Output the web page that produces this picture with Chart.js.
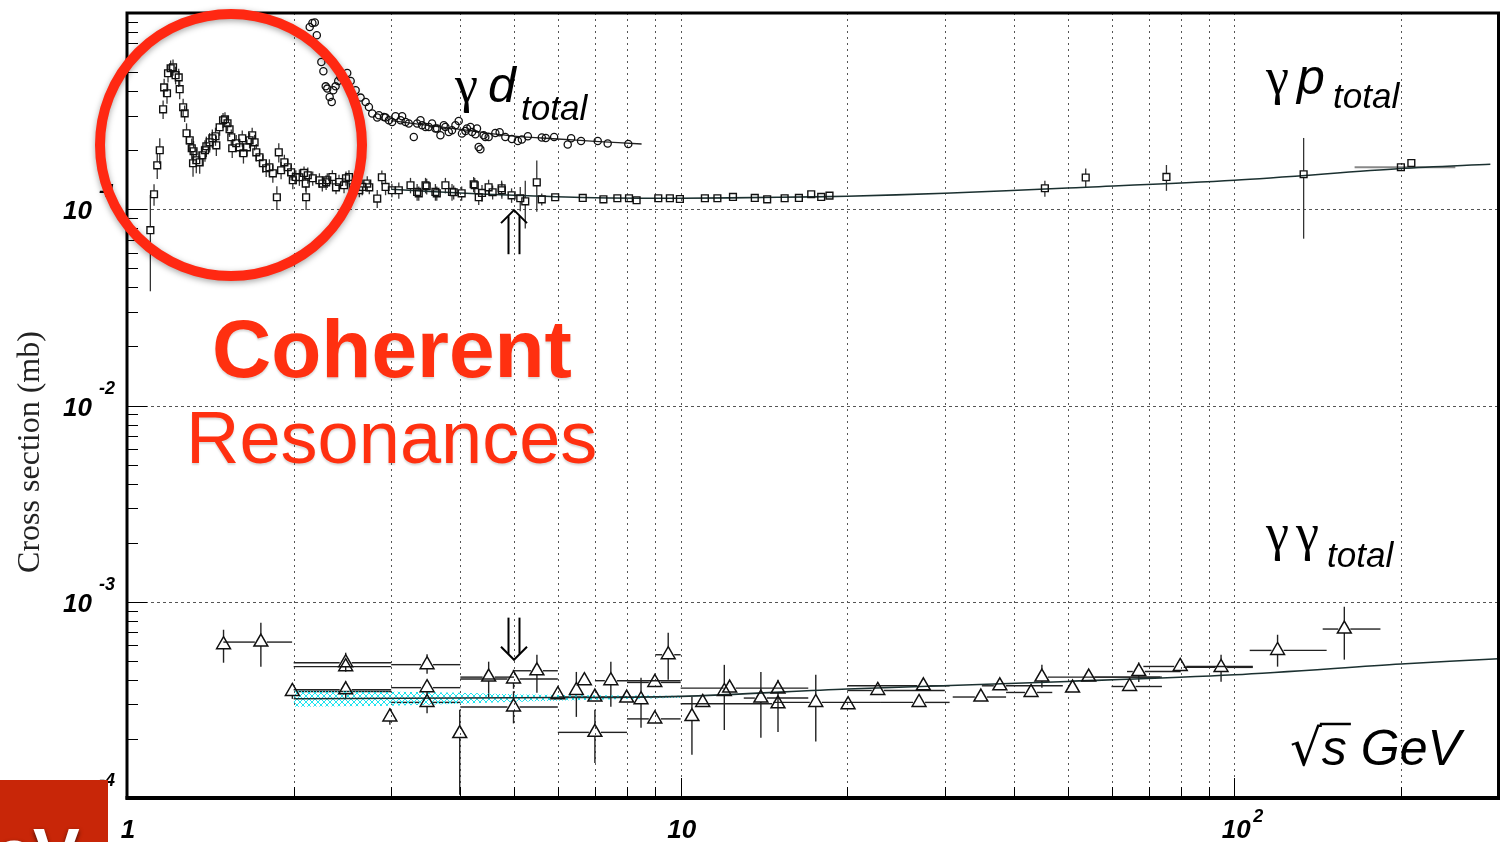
<!DOCTYPE html>
<html>
<head>
<meta charset="utf-8">
<title>Total photon cross sections</title>
<script src="https://cdn.jsdelivr.net/npm/chart.js@4.4.1/dist/chart.umd.min.js"></script>
<style>
  html, body { margin: 0; padding: 0; background: #fff; }
  canvas { display: block; }
</style>
</head>
<body>
<canvas id="xsecChart" width="1508" height="842"></canvas>
<script>
// gamma p total cross section (mb) vs sqrt(s) in GeV
const gpX = [1.102,1.119,1.134,1.146,1.162,1.167,1.181,1.186,1.199,1.211,1.224,1.240,1.245,1.263,1.271,1.281,1.298,1.309,1.319,1.316,
  1.334,1.353,1.368,1.383,1.391,1.410,1.426,1.445,1.450,1.470,1.491,1.503,1.519,1.532,1.543,1.549,1.575,1.597,1.615,1.623,
  1.647,1.665,1.683,1.700,1.712,1.735,1.760,1.784,1.808,1.834,1.865,1.880,1.898,1.924,1.952,1.979,1.993,2.048,2.106,2.121,
  2.165,2.226,2.289,2.385,2.486,2.556,2.628,2.739,2.886,3.009,3.251,3.365,3.478,3.627,3.759,3.891,4.022,4.247,4.318,4.499,
  4.575,4.749,4.950,5.132,5.240,5.497,5.612,5.934,6.655,7.252,7.685,8.067,8.326,9.111,9.561,9.968,11.06,11.65,12.43,13.61,
  14.33,15.41,16.35,17.21,17.94,18.57,45.48,53.9,75.4,133.4,199.9,208.8,
  // dense band 2-5 GeV
  2.018,2.088,2.103,2.253,2.300,2.349,2.415,2.466,2.517,2.588,2.660,2.716,2.831,2.931,3.097,3.342,3.461,3.606,3.864,4.228,
  4.377,4.754];
const gpY = [0.0782,0.1192,0.1675,0.1998,0.323,0.418,0.390,0.493,0.523,0.529,0.482,0.470,0.409,0.331,0.308,0.244,0.2246,0.2046,0.1975,0.1715,
  0.1777,0.1735,0.1884,0.1998,0.2094,0.2194,0.2300,0.2355,0.2118,0.2617,0.2841,0.2874,0.2742,0.2556,0.2327,0.2046,0.2169,0.2069,0.2300,0.1929,
  0.2069,0.2246,0.2382,0.2194,0.1951,0.1840,0.1715,0.1618,0.1637,0.1525,0.1151,0.1951,0.1580,0.1735,0.1637,0.1543,0.1405,0.1456,0.1151,0.1490,
  0.1439,0.1405,0.1372,0.1294,0.1439,0.1294,0.1250,0.1294,0.1456,0.1250,0.1325,0.1206,0.1310,0.1206,0.1325,0.1221,0.1206,0.1325,0.1151,0.1294,
  0.1221,0.1279,0.1178,0.1138,0.1098,0.1372,0.1124,0.1151,0.1142,0.1124,0.1138,0.1138,0.1111,0.1138,0.1138,0.1128,0.1138,0.1138,0.1155,0.1142,
  0.1124,0.1138,0.1142,0.1192,0.1155,0.1174,0.1279,0.1451,0.1461,0.1508,0.1637,0.1721,
  0.1460,0.1531,0.1352,0.1352,0.1405,0.1460,0.1377,0.1325,0.1460,0.1352,0.1299,0.1352,0.1134,0.1299,0.1250,0.1225,0.1325,0.1225,0.1225,0.1341,
  0.1211,0.1250];
const gpErr = [0.04,0.015,0.025,0.03,0.035,0.045,0.045,0.05,0.05,0.05,0.05,0.05,0.045,0.035,0.03,0.03,0.028,0.025,0.025,0.025,
  0.025,0.022,0.022,0.025,0.025,0.025,0.025,0.025,0.025,0.025,0.025,0.025,0.025,0.022,0.022,0.022,0.022,0.022,0.022,0.022,
  0.02,0.02,0.022,0.02,0.02,0.018,0.018,0.016,0.016,0.016,0.016,0.022,0.016,0.016,0.016,0.014,0.014,0.014,0.016,0.014,
  0.012,0.012,0.012,0.01,0.012,0.01,0.01,0.01,0.012,0.01,0.012,0.01,0.012,0.01,0.012,0.01,0.01,0.012,0.01,0.012,
  0.01,0.012,0.01,0.016,0.03,0.04,0.008,0.004,0.003,0.003,0.003,0.003,0.003,0.003,0.003,0.003,0.003,0.003,0.003,0.003,
  0.003,0.003,0.003,0.003,0.003,0.003,0.012,0.016,0.022,0.08,0.006,0.008,
  0.012,0.012,0.012,0.012,0.012,0.012,0.012,0.012,0.012,0.012,0.012,0.012,0.012,0.012,0.012,0.012,0.012,0.012,0.012,0.012,
  0.012,0.012];
const gpHBar = [[110, 164.9, 250.7]]; // point index, low, high sqrt(s)

const gpFitX = [3, 4, 5, 7, 10, 15, 20, 30, 50, 100, 200, 290];
const gpFitY = [0.1264, 0.121, 0.1178, 0.1144, 0.1138, 0.1151, 0.1165, 0.1206, 0.1284, 0.1405, 0.1612, 0.1695];

// gamma d total
const gdX = [2.138,2.162,2.184,2.202,2.244,2.263,2.285,2.300,2.323,2.343,2.358,2.381,2.407,2.431,2.499,2.535,2.588,2.642,2.698,2.735,
  2.773,2.831,2.911,2.972,3.055,3.120,3.185,3.296,3.342,3.412,3.508,3.606,3.682,3.759,3.864,3.973,4.027,4.112,4.199,4.287,
  4.317,4.348,4.407,4.500,4.627,4.710,4.823,4.956,5.081,5.166,5.297,5.613,5.706,5.908,6.252,6.341,6.608,7.083,7.382,8.043,
  2.851,2.931,3.012,3.140,3.228,3.389,3.461,3.556,3.631,3.734,3.812,3.919,4.086,4.172,4.259,4.438];
const gdY = [0.848,0.889,0.894,0.770,0.563,0.505,0.423,0.412,0.3734,0.3521,0.404,0.423,0.4504,0.472,0.495,0.4504,0.404,0.3707,0.3521,0.3320,
  0.3073,0.2932,0.2953,0.2841,0.2977,0.2841,0.2785,0.2335,0.2733,0.2679,0.2626,0.2577,0.2382,0.2626,0.2526,0.2818,0.2430,0.2577,0.2476,0.2577,
  0.2077,0.2022,0.2382,0.2335,0.2447,0.2467,0.2335,0.2281,0.2228,0.2265,0.2355,0.2319,0.2308,0.2335,0.2136,0.2300,0.2228,0.2228,0.2161,0.2151,
  0.3012,0.2932,0.2785,0.2977,0.2733,0.2841,0.2626,0.2733,0.2577,0.2679,0.2476,0.2679,0.2505,0.2626,0.2410,0.2335];
const gdLineX = [3.0, 4.0, 5.0, 6.0, 7.0, 8.5];
const gdLineY = [0.283, 0.255, 0.236, 0.228, 0.222, 0.215];

// gamma gamma total
const ggX = [1.494,1.745,1.989,2.483,2.483,2.483,2.984,3.483,3.483,3.483,3.99,4.50,4.99,4.99,5.50,6.00,6.48,6.70,7.00,7.00,
  7.48,7.99,8.48,8.98,8.98,9.495,10.48,10.96,11.99,12.26,13.96,14.99,14.99,17.54,20.06,22.70,26.95,27.44,34.85,37.71,
  42.94,44.92,51.03,54.57,64.69,67.21,79.85,94.63,119.7,158.0];
const ggY = [6.04e-4,6.23e-4,3.49e-4,4.89e-4,4.67e-4,3.56e-4,2.59e-4,4.78e-4,3.65e-4,3.07e-4,2.13e-4,4.13e-4,4.04e-4,2.91e-4,4.45e-4,3.36e-4,3.53e-4,3.96e-4,3.27e-4,2.16e-4,
  3.96e-4,3.23e-4,3.17e-4,3.88e-4,2.53e-4,5.37e-4,2.60e-4,3.07e-4,3.49e-4,3.63e-4,3.23e-4,3.59e-4,3.02e-4,3.07e-4,2.99e-4,3.53e-4,3.07e-4,3.73e-4,3.27e-4,3.73e-4,
  3.45e-4,4.13e-4,3.63e-4,4.13e-4,3.70e-4,4.41e-4,4.68e-4,4.63e-4,5.65e-4,7.26e-4];
const ggXLo = [null,1.493,2.0,2.0,2.0,2.0,null,3.0,3.0,3.0,null,4.0,4.0,4.0,5.0,null,null,null,6.0,6.0,
  7.0,null,null,8.0,8.0,9.0,null,null,null,10.0,13.0,null,10.0,14.7,null,20.0,23.0,20.0,31.0,35.0,
  38.7,47.0,null,55.0,60.0,64.0,68.5,81.0,106.6,144.4];
const ggXHi = [null,1.987,3.0,3.0,3.0,3.0,null,4.0,4.0,4.0,null,5.0,6.0,6.0,6.0,null,null,null,8.0,8.0,
  10.0,null,null,10.0,10.0,10.0,null,null,null,17.0,17.0,null,14.7,23.0,null,30.0,30.6,30.6,38.7,49.0,
  46.9,73.5,null,74.0,74.0,80.0,108.0,108.0,146.8,183.6];
const ggYLo = [4.89e-4,4.67e-4,3.2e-4,4.4e-4,null,3.2e-4,2.36e-4,4.3e-4,null,2.7e-4,1.04e-4,3.27e-4,3.6e-4,2.4e-4,3.44e-4,null,2.59e-4,null,null,1.51e-4,
  2.92e-4,null,2.28e-4,null,null,4.0e-4,1.66e-4,null,2.22e-4,null,2.03e-4,2.17e-4,null,1.94e-4,null,null,null,null,null,null,
  null,3.65e-4,null,null,null,3.9e-4,null,3.91e-4,4.67e-4,5.07e-4];
const ggYHi = [7.20e-4,7.82e-4,3.85e-4,5.5e-4,null,3.95e-4,2.86e-4,5.4e-4,null,3.5e-4,2.82e-4,4.95e-4,4.5e-4,3.5e-4,5.37e-4,null,4.39e-4,null,null,2.82e-4,
  4.95e-4,null,4.10e-4,null,null,6.95e-4,3.27e-4,null,4.77e-4,null,4.39e-4,4.0e-4,null,4.25e-4,null,null,null,null,null,null,
  null,4.77e-4,null,null,null,4.9e-4,null,5.37e-4,6.79e-4,9.43e-4];

const ggFitX = [2, 5, 10, 20, 50, 100, 200, 300];
const ggFitY = [3.205e-4, 3.243e-4, 3.293e-4, 3.592e-4, 3.926e-4, 4.246e-4, 4.816e-4, 5.125e-4];
const ggBandX = [2, 3, 4, 5, 7, 10];
const ggBandHi = [3.52e-4, 3.479e-4, 3.44e-4, 3.38e-4, 3.34e-4, 3.32e-4];
const ggBandLo = [2.918e-4, 2.952e-4, 3.02e-4, 3.09e-4, 3.17e-4, 3.245e-4];

// double arrows at sqrt(s) = 5 GeV
const arrowX = [5.0, 5.0];
const arrowFrom = [0.059, 8.3e-4];
const arrowTo = [0.099, 5.06e-4];

// axis ticks
const xMajor = [1, 10, 100];
const xMinor = [];
const yMajor = [1e-4, 1e-3, 1e-2, 1e-1];
const yMinor = [];
[1, 10, 100].forEach(d => { for (let k = 2; k <= 9; k++) if (k * d < 300) xMinor.push(k * d); });
[1e-4, 1e-3, 1e-2, 1e-1].forEach(d => { for (let k = 2; k <= 9; k++) yMinor.push(k * d); });
const yTickLabels = ['-4', '-3', '-2', '-1'];

const pts = (xs, ys) => xs.map((v, i) => ({x: v, y: ys[i]}));

// cyan cross-hatch for the gamma gamma band
const hatchCanvas = document.createElement('canvas');
hatchCanvas.width = 6; hatchCanvas.height = 6;
const hc = hatchCanvas.getContext('2d');
hc.strokeStyle = '#20e4ee'; hc.lineWidth = 1;
hc.beginPath(); hc.moveTo(0, 0); hc.lineTo(6, 6); hc.moveTo(6, 0); hc.lineTo(0, 6); hc.stroke();
const hatch = hc.createPattern(hatchCanvas, 'repeat');

function seg(ctx, x1, y1, x2, y2) {
  ctx.beginPath(); ctx.moveTo(x1, y1); ctx.lineTo(x2, y2); ctx.stroke();
}

const decorations = {
  id: 'decorations',
  beforeDatasetsDraw(chart) {
    const {ctx, chartArea: a, scales: {x, y}} = chart;
    ctx.save();
    ctx.strokeStyle = '#555';
    ctx.lineWidth = 1;
    ctx.setLineDash([2, 4]);
    xMinor.concat([10, 100]).forEach(v => {
      const px = Math.round(x.getPixelForValue(v)) + 0.5;
      seg(ctx, px, a.top, px, a.bottom);
    });
    ctx.setLineDash([3, 3]);
    [1e-3, 1e-2, 1e-1].forEach(v => {
      const py = Math.round(y.getPixelForValue(v)) + 0.5;
      seg(ctx, a.left, py, a.right, py);
    });
    ctx.setLineDash([]);

    // gamma p error bars
    ctx.strokeStyle = '#333';
    ctx.lineWidth = 1.3;
    gpX.forEach((v, i) => {
      const px = x.getPixelForValue(v);
      const py = y.getPixelForValue(gpY[i]);
      const top = y.getPixelForValue(gpY[i] + gpErr[i]);
      const bot = y.getPixelForValue(gpY[i] - gpErr[i]);
      if (top < py - 3.5) seg(ctx, px, top, px, py - 3.5);
      if (bot > py + 3.5) seg(ctx, px, py + 3.5, px, bot);
    });
    ctx.strokeStyle = '#888';
    ctx.lineWidth = 2;
    gpHBar.forEach(([i, lo, hi]) => {
      const py = y.getPixelForValue(gpY[i]);
      seg(ctx, x.getPixelForValue(lo), py, x.getPixelForValue(hi), py);
    });

    // gamma gamma error bars
    ctx.strokeStyle = '#222';
    ctx.lineWidth = 1.4;
    ggX.forEach((v, i) => {
      const px = x.getPixelForValue(v);
      const py = y.getPixelForValue(ggY[i]);
      if (ggXLo[i] !== null) {
        const l = x.getPixelForValue(ggXLo[i]), r = x.getPixelForValue(ggXHi[i]);
        if (l < px - 6) seg(ctx, l, py, px - 6, py);
        if (r > px + 6) seg(ctx, px + 6, py, r, py);
      }
      if (ggYLo[i] !== null) {
        const t = y.getPixelForValue(ggYHi[i]), b = y.getPixelForValue(ggYLo[i]);
        if (t < py - 8) seg(ctx, px, t, px, py - 8);
        if (b > py + 4) seg(ctx, px, py + 4, px, b);
      }
    });
    ctx.restore();
  },
  afterDatasetsDraw(chart) {
    const {ctx, chartArea: a, scales: {x, y}} = chart;
    ctx.save();
    ctx.fillStyle = '#000';
    ctx.strokeStyle = '#000';

    // frame
    ctx.lineWidth = 3;
    ctx.strokeRect(a.left, a.top, a.right - a.left, a.bottom - a.top);
    ctx.lineWidth = 4;
    seg(ctx, a.left - 1.5, a.bottom, a.right + 1.5, a.bottom);

    // tick marks inside the frame
    ctx.lineWidth = 1;
    yMinor.forEach(v => { const py = Math.round(y.getPixelForValue(v)) + 0.5; seg(ctx, a.left, py, a.left + 11, py); });
    yMajor.forEach(v => { const py = Math.round(y.getPixelForValue(v)) + 0.5; seg(ctx, a.left, py, a.left + 20, py); });
    xMinor.forEach(v => { const px = Math.round(x.getPixelForValue(v)) + 0.5; seg(ctx, px, a.bottom, px, a.bottom - 11); });
    xMajor.forEach(v => { const px = Math.round(x.getPixelForValue(v)) + 0.5; seg(ctx, px, a.bottom, px, a.bottom - 20); });

    // tick labels
    const big = 'bold italic 26px "Liberation Sans", Arial, sans-serif';
    const small = 'bold italic 18px "Liberation Sans", Arial, sans-serif';
    yMajor.forEach((v, i) => {
      const py = y.getPixelForValue(v);
      ctx.font = big; ctx.textAlign = 'right';
      ctx.fillText('10', 92, py + 10);
      ctx.font = small; ctx.textAlign = 'left';
      ctx.fillText(yTickLabels[i], 99, py - 12);
    });
    ctx.font = big; ctx.textAlign = 'center';
    ctx.fillText('1', x.getPixelForValue(1) + 1, 838);
    ctx.fillText('10', x.getPixelForValue(10) + 1, 838);
    ctx.fillText('10', x.getPixelForValue(100) + 2, 838);
    ctx.font = small; ctx.textAlign = 'left';
    ctx.fillText('2', x.getPixelForValue(100) + 19, 822);

    // axis title
    ctx.save();
    ctx.translate(39, 452);
    ctx.rotate(-Math.PI / 2);
    ctx.font = '32px "Liberation Serif", "Times New Roman", serif';
    ctx.textAlign = 'center';
    ctx.fillStyle = '#222';
    ctx.fillText('Cross section (mb)', 0, 0);
    ctx.restore();

    // process labels
    const greek = '52px "Liberation Serif", serif';
    const letter = 'italic 50px "Liberation Sans", Arial, sans-serif';
    const sub = 'italic 35px "Liberation Sans", Arial, sans-serif';
    ctx.textAlign = 'left';
    ctx.font = greek; ctx.fillText('γ', 455, 102);
    ctx.font = letter; ctx.fillText('d', 488, 102);
    ctx.font = sub; ctx.fillText('total', 521, 120);

    ctx.font = greek; ctx.fillText('γ', 1266, 94);
    ctx.font = letter; ctx.fillText('p', 1297, 94);
    ctx.font = sub; ctx.fillText('total', 1333, 108);

    ctx.font = greek; ctx.fillText('γ', 1266, 550); ctx.fillText('γ', 1296, 550);
    ctx.font = sub; ctx.fillText('total', 1327, 567);

    ctx.font = '50px "DejaVu Sans", sans-serif';
    ctx.fillText('√', 1290, 765);
    const rw = ctx.measureText('√').width;
    ctx.font = letter;
    ctx.fillText('s GeV', 1290 + rw, 765);
    const sw = ctx.measureText('s').width;
    ctx.lineWidth = 2.5;
    seg(ctx, 1290 + rw - 2, 724, 1290 + rw + sw + 4, 724);

    // double arrows
    ctx.lineWidth = 2;
    arrowX.forEach((v, i) => {
      const px = x.getPixelForValue(v);
      const p0 = y.getPixelForValue(arrowFrom[i]);
      const p1 = y.getPixelForValue(arrowTo[i]);
      const dir = Math.sign(p1 - p0);
      const end = p1 - dir * 6;
      seg(ctx, px - 5.5, p0, px - 5.5, end);
      seg(ctx, px + 5.5, p0, px + 5.5, end);
      ctx.beginPath();
      ctx.moveTo(px - 13, p1 - dir * 13);
      ctx.lineTo(px, p1);
      ctx.lineTo(px + 13, p1 - dir * 13);
      ctx.stroke();
    });
    ctx.restore();
  },
  afterDraw(chart) {
    const {ctx} = chart;
    ctx.save();
    // highlight circle
    ctx.shadowColor = 'rgba(0,0,0,0.35)';
    ctx.shadowBlur = 6;
    ctx.shadowOffsetY = 2;
    ctx.strokeStyle = 'rgb(255,40,18)';
    ctx.lineWidth = 10;
    ctx.beginPath();
    ctx.arc(231, 145, 131, 0, Math.PI * 2);
    ctx.stroke();
    ctx.shadowColor = 'rgba(0,0,0,0.15)';
    ctx.shadowBlur = 2;
    ctx.fillStyle = 'rgb(255,48,16)';
    ctx.textAlign = 'left';
    ctx.font = 'bold 82px "Liberation Sans", Arial, sans-serif';
    ctx.fillText('Coherent', 212, 377);
    ctx.font = '74px "Liberation Sans", Arial, sans-serif';
    ctx.fillText('Resonances', 186, 463);

    // slide box in the corner
    ctx.shadowColor = 'transparent';
    ctx.fillStyle = 'rgb(200,38,8)';
    ctx.fillRect(0, 780, 108, 62);
    ctx.beginPath();
    ctx.rect(0, 780, 108, 62);
    ctx.clip();
    ctx.shadowColor = 'rgba(0,0,0,0.7)';
    ctx.shadowBlur = 4;
    ctx.fillStyle = '#fff';
    ctx.font = 'bold 70px "Liberation Sans", Arial, sans-serif';
    ctx.fillText('eV', -6, 878);
    ctx.restore();
  }
};

const marker = {showLine: false, pointBorderColor: '#111', pointBackgroundColor: 'rgba(0,0,0,0)', pointHoverRadius: 0};
const curve = {showLine: true, pointRadius: 0, fill: false, tension: 0.3, pointHoverRadius: 0};

new Chart(document.getElementById('xsecChart'), {
  type: 'scatter',
  data: {
    datasets: [
      {...marker, label: 'γγ total', data: pts(ggX, ggY), pointStyle: 'triangle', pointRadius: 8, pointBorderWidth: 1.5, order: 1},
      {...marker, label: 'γp total', data: pts(gpX, gpY), pointStyle: 'rect', pointRadius: 4.8, pointBorderWidth: 1.4, order: 1},
      {...marker, label: 'γd total', data: pts(gdX, gdY), pointStyle: 'circle', pointRadius: 3.6, pointBorderWidth: 1.3, order: 1},
      {...curve, label: 'γp fit', data: pts(gpFitX, gpFitY), borderColor: '#1b3030', borderWidth: 1.6, order: 3},
      {...curve, label: 'γd line', data: pts(gdLineX, gdLineY), borderColor: '#222', borderWidth: 1.3, order: 3},
      {...curve, label: 'γγ fit', data: pts(ggFitX, ggFitY), borderColor: '#1b3030', borderWidth: 1.6, order: 3},
      {...curve, label: 'γγ band low', data: pts(ggBandX, ggBandLo), borderWidth: 0, borderColor: 'rgba(0,0,0,0)', order: 5},
      {...curve, label: 'γγ band high', data: pts(ggBandX, ggBandHi), borderWidth: 0, borderColor: 'rgba(0,0,0,0)', fill: '-1', backgroundColor: hatch, order: 5}
    ]
  },
  options: {
    responsive: false,
    animation: false,
    devicePixelRatio: 1,
    layout: {padding: {left: 127, right: 7, top: 13, bottom: 44}},
    events: [],
    plugins: {legend: {display: false}, tooltip: {enabled: false}},
    scales: {
      x: {type: 'logarithmic', min: 1, max: 300, display: false},
      y: {type: 'logarithmic', min: 1e-4, max: 1, display: false}
    }
  },
  plugins: [decorations]
});
</script>
</body>
</html>
